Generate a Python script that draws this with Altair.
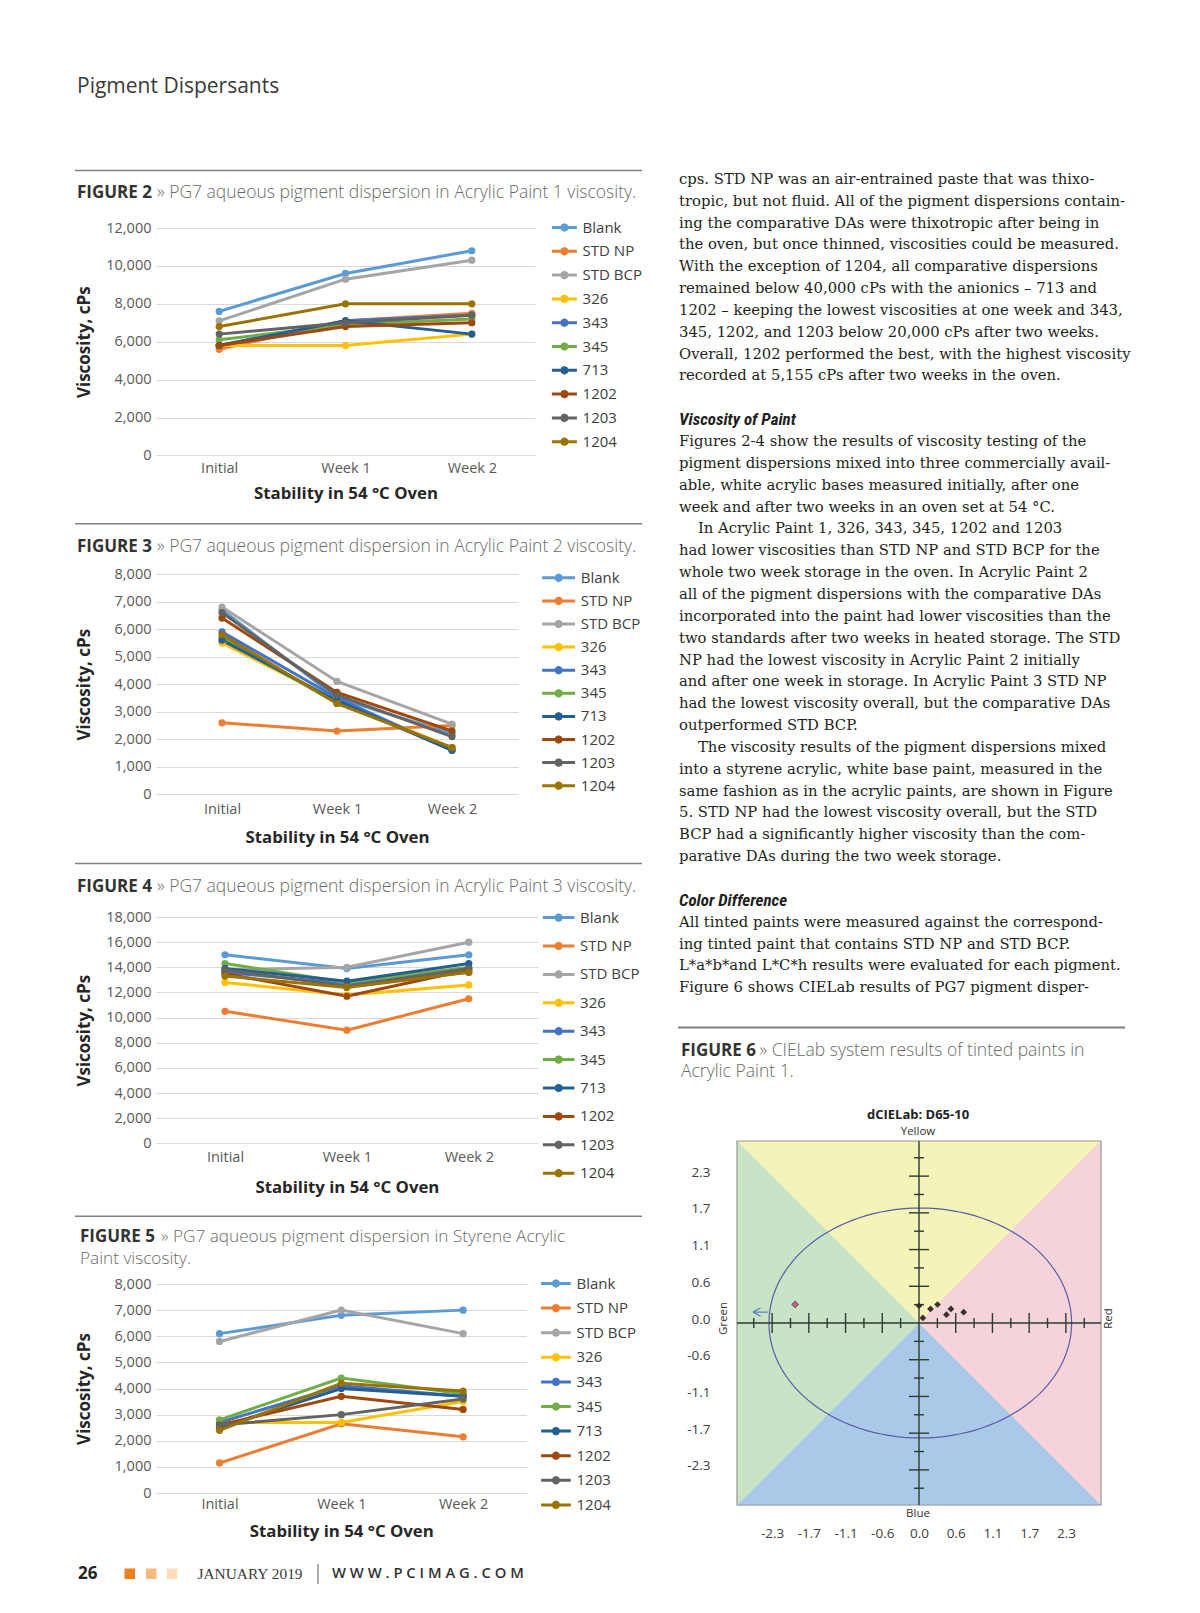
import altair as alt
import pandas as pd

# ---------------- data ----------------
series = ["Blank", "STD NP", "STD BCP", "326", "343", "345", "713", "1202", "1203", "1204"]
times = ["Initial", "Week 1", "Week 2"]
series_colors = ["#5B9BD5", "#ED7D31", "#A5A5A5", "#FFC000", "#4472C4",
                 "#70AD47", "#255E91", "#9E480E", "#636363", "#997300"]

# rows follow `series`, columns follow `times` (viscosity, cPs)
fig2_values = [
    [7600, 9600, 10800], [5600, 7100, 7500], [7100, 9300, 10300], [5800, 5800, 6400],
    [5800, 7100, 7400], [6100, 6900, 7200], [5800, 7100, 6400], [5800, 6800, 7000],
    [6400, 7000, 7400], [6800, 8000, 8000],
]
fig3_values = [
    [6700, 3500, 2200], [2600, 2300, 2500], [6800, 4100, 2550], [5500, 3400, 1700],
    [5900, 3500, 1600], [5700, 3300, 1700], [5600, 3400, 1600], [6400, 3700, 2300],
    [6600, 3600, 2100], [5800, 3300, 1700],
]
fig4_values = [
    [15000, 13900, 15000], [10500, 9000, 11500], [13800, 14000, 16000], [12800, 11800, 12600],
    [13600, 12700, 13600], [14300, 12800, 14000], [13900, 12900, 14300], [13500, 11700, 13800],
    [13800, 12500, 13900], [13300, 12400, 13600],
]
fig5_values = [
    [6100, 6800, 7000], [1150, 2650, 2150], [5800, 7000, 6100], [2700, 2700, 3500],
    [2700, 4100, 3700], [2800, 4400, 3800], [2500, 4000, 3700], [2600, 3700, 3200],
    [2600, 3000, 3600], [2400, 4200, 3900],
]

# CIELab (Figure 6): da*, db* of the tinted paints
cie_da = [-1.94, 0.00, 0.06, 0.18, 0.29, 0.43, 0.50, 0.70]
cie_db = [0.29, 0.27, 0.08, 0.22, 0.29, 0.13, 0.22, 0.17]
cie_kind = ["pink", "dark", "dark", "dark", "dark", "dark", "dark", "dark"]
cie_ticks = [-2.3, -1.725, -1.15, -0.575, 0.0, 0.575, 1.15, 1.725, 2.3]
cie_limit = 2.85
cie_ellipse = {"cx": 0.02, "cy": 0.0, "a": 2.37, "b": 1.80}

header_text = "Pigment Dispersants"
captions = {
    2: "» PG7 aqueous pigment dispersion in Acrylic Paint 1 viscosity.",
    3: "» PG7 aqueous pigment dispersion in Acrylic Paint 2 viscosity.",
    4: "» PG7 aqueous pigment dispersion in Acrylic Paint 3 viscosity.",
    5: "» PG7 aqueous pigment dispersion in Styrene Acrylic",
}
caption5_line2 = "Paint viscosity."
caption6 = "» CIELab system results of tinted paints in"
caption6_line2 = "Acrylic Paint 1."

block1 = [
    "cps. STD NP was an air-entrained paste that was thixo-",
    "tropic, but not fluid. All of the pigment dispersions contain-",
    "ing the comparative DAs were thixotropic after being in",
    "the oven, but once thinned, viscosities could be measured.",
    "With the exception of 1204, all comparative dispersions",
    "remained below 40,000 cPs with the anionics – 713 and",
    "1202 – keeping the lowest viscosities at one week and 343,",
    "345, 1202, and 1203 below 20,000 cPs after two weeks.",
    "Overall, 1202 performed the best, with the highest viscosity",
    "recorded at 5,155 cPs after two weeks in the oven.",
]
heading1 = "Viscosity of Paint"
block2 = [
    "Figures 2-4 show the results of viscosity testing of the",
    "pigment dispersions mixed into three commercially avail-",
    "able, white acrylic bases measured initially, after one",
    "week and after two weeks in an oven set at 54 °C.",
    "In Acrylic Paint 1, 326, 343, 345, 1202 and 1203",
    "had lower viscosities than STD NP and STD BCP for the",
    "whole two week storage in the oven. In Acrylic Paint 2",
    "all of the pigment dispersions with the comparative DAs",
    "incorporated into the paint had lower viscosities than the",
    "two standards after two weeks in heated storage. The STD",
    "NP had the lowest viscosity in Acrylic Paint 2 initially",
    "and after one week in storage. In Acrylic Paint 3 STD NP",
    "had the lowest viscosity overall, but the comparative DAs",
    "outperformed STD BCP.",
    "The viscosity results of the pigment dispersions mixed",
    "into a styrene acrylic, white base paint, measured in the",
    "same fashion as in the acrylic paints, are shown in Figure",
    "5. STD NP had the lowest viscosity overall, but the STD",
    "BCP had a significantly higher viscosity than the com-",
    "parative DAs during the two week storage.",
]
block2_indented = [4, 14]
heading2 = "Color Difference"
block3 = [
    "All tinted paints were measured against the correspond-",
    "ing tinted paint that contains STD NP and STD BCP.",
    "L*a*b*and L*C*h results were evaluated for each pigment.",
    "Figure 6 shows CIELab results of PG7 pigment disper-",
]

# ---------------- helpers ----------------
ONE = pd.DataFrame({"_": [0]})
SANS = "Open Sans"


def legend_symbol(half):
    """Legend glyph: a line with a dot, in the unit box that Vega scales by sqrt(size)/2."""
    return (f"M{-half},0L{half},0M0.27,0L0.19,0.19L0,0.27L-0.19,0.19L-0.27,0"
            "L-0.19,-0.19L0,-0.27L0.19,-0.19Z")


def long_df(values):
    return pd.DataFrame([{"series": s, "time": t, "value": v}
                         for s, vals in zip(series, values) for t, v in zip(times, vals)])


class Frame:
    """Page furniture placed relative to a plot origin (page pixels)."""

    def __init__(self, x0, y0):
        self.x0, self.y0 = x0, y0

    def text(self, s, x, y, size=14, font=SANS, color="#333333", weight="normal",
             style="normal", align="left", baseline="middle", angle=None):
        kw = dict(align=align, baseline=baseline, font=font, fontSize=size, color=color,
                  fontWeight=weight, fontStyle=style)
        if angle is not None:
            kw["angle"] = angle
        return alt.Chart(ONE).mark_text(**kw).encode(
            x=alt.value(x - self.x0), y=alt.value(y - self.y0), text=alt.value(s))

    def hline(self, x1, x2, y, color="#808080", width=1.5, opacity=1.0):
        return alt.Chart(ONE).mark_rule(color=color, strokeWidth=width, opacity=opacity).encode(
            x=alt.value(x1 - self.x0), x2=alt.value(x2 - self.x0), y=alt.value(y - self.y0))

    def vline(self, x, y1, y2, color="#555555", width=1.0):
        return alt.Chart(ONE).mark_rule(color=color, strokeWidth=width).encode(
            x=alt.value(x - self.x0), y=alt.value(y1 - self.y0), y2=alt.value(y2 - self.y0))

    def box(self, x1, x2, y1, y2, color):
        return alt.Chart(ONE).mark_rect(color=color).encode(
            x=alt.value(x1 - self.x0), x2=alt.value(x2 - self.x0),
            y=alt.value(y1 - self.y0), y2=alt.value(y2 - self.y0))

    def bounds(self, x1, x2, top, bottom):
        return [self.hline(x1, x2, top, opacity=0, width=1),
                self.hline(x1, x2, bottom, opacity=0, width=1)]


LEFT_X0 = 156  # all left-column plots share one origin x


def viscosity_chart(values, ymax, ystep, ytitle, fr, first_center, step, H,
                    sym_x1, sym_x2, leg_first, leg_step, xlab_center, xtitle_y):
    pad = (first_center - fr.x0) / step
    W = step * (2 + 2 * pad)
    sym_len = sym_x2 - sym_x1
    overhang = (sym_len - 20) / 2
    legend = alt.Legend(orient="none", legendX=sym_x1 + overhang - fr.x0,
                        legendY=leg_first - 13 - fr.y0,
                        title=None, symbolType=legend_symbol(round(sym_len / 20, 3)),
                        symbolSize=400, symbolStrokeWidth=3,
                        labelFontSize=15, labelFont=SANS, labelColor="#404040",
                        labelOffset=round(overhang + 4.2, 2), rowPadding=max(leg_step - 21, 0),
                        padding=0)
    ch = alt.Chart(long_df(values)).mark_line(
        strokeWidth=3, point=alt.OverlayMarkDef(filled=True, size=52)
    ).encode(
        x=alt.X("time:N", sort=times, title="Stability in 54 °C Oven",
                scale=alt.Scale(type="point", padding=pad),
                axis=alt.Axis(labelAngle=0, labelFontSize=14.5, labelColor="#595959", labelFont=SANS,
                              labelPadding=xlab_center - 7.8, ticks=False, tickSize=0, domain=False,
                              titleFontSize=16.8, titleFontWeight="bold", titleColor="#262626",
                              titleFont=SANS, titleY=xtitle_y - (fr.y0 + H), titleBaseline="middle")),
        y=alt.Y("value:Q", scale=alt.Scale(domain=[0, ymax], nice=False), title=ytitle,
                axis=alt.Axis(values=list(range(0, ymax + 1, ystep)), format=",.0f", grid=True,
                              gridColor="#d9d9d9", gridWidth=1, domain=False, ticks=False, tickSize=0,
                              labelPadding=5, labelFontSize=14.5, labelColor="#595959", labelFont=SANS,
                              titleFontSize=17, titleFontWeight="bold", titleColor="#262626",
                              titleFont=SANS, titleX=84.4 - fr.x0, titleY=H / 2, titleAngle=270,
                              titleBaseline="middle", titleAlign="center")),
        color=alt.Color("series:N", sort=series,
                        scale=alt.Scale(domain=series, range=series_colors), legend=legend),
    )
    return ch, W


def caption(fr, num, light, y, x_bold=77, x_light=157, size=17.5):
    return [fr.text(f"FIGURE {num}", x_bold, y, size=17, weight="bold", color="#333333"),
            fr.text(light, x_light, y, size=size, weight=300, color="#6a6a6a")]


LEFT_X1, LEFT_X2 = 60, 660

# ---------------- Figure 2 ----------------
f2 = Frame(LEFT_X0, 227.4)
H2 = 227.4
ch2, W2 = viscosity_chart(fig2_values, 12000, 2000, "Viscosity, cPs", f2, 219.2, 126.3, H2,
                          550.4, 575.4, 228.4, 23.8, 13.4, 493)
c2 = alt.layer(
    ch2,
    f2.text(header_text, 77, 86.4, size=21, color="#3a3a3a"),
    f2.hline(75, 642, 169.8),
    *caption(f2, 2, captions[2], 192.4),
    *f2.bounds(LEFT_X1, LEFT_X2, 60, 510),
).properties(width=W2, height=H2)

# ---------------- Figure 3 ----------------
f3 = Frame(LEFT_X0, 573)
H3 = 220.4
ch3, W3 = viscosity_chart(fig3_values, 8000, 1000, "Viscosity, cPs", f3, 222, 115, H3,
                          540.7, 573.6, 578.3, 23.1, 15.4, 836.6)
c3 = alt.layer(
    ch3,
    f3.hline(75, 642, 522.7),
    *caption(f3, 3, captions[3], 546.4),
    *f3.bounds(LEFT_X1, LEFT_X2, 510, 850),
).properties(width=W3, height=H3)

# ---------------- Figure 4 ----------------
f4 = Frame(LEFT_X0, 915.8)
H4 = 226.4
ch4, W4 = viscosity_chart(fig4_values, 18000, 2000, "Vsicosity, cPs", f4, 225, 121.9, H4,
                          541.4, 572.9, 917.9, 28.4, 14.4, 1186.4)
c4 = alt.layer(
    ch4,
    f4.hline(75, 642, 862.3),
    *caption(f4, 4, captions[4], 886),
    *f4.bounds(LEFT_X1, LEFT_X2, 850, 1202),
).properties(width=W4, height=H4)

# ---------------- Figure 5 + footer ----------------
f5 = Frame(LEFT_X0, 1282)
H5 = 209
ch5, W5 = viscosity_chart(fig5_values, 8000, 1000, "Viscosity, cPs", f5, 219.5, 121.8, H5,
                          539.6, 569.3, 1283, 24.6, 12.4, 1529)
c5 = alt.layer(
    ch5,
    f5.hline(75, 642, 1214.2),
    *caption(f5, 5, captions[5], 1235.3, x_bold=80, x_light=161, size=17.2),
    f5.text(caption5_line2, 80, 1257.2, size=17.2, weight=300, color="#6a6a6a"),
    f5.text("26", 78, 1572, size=17, weight="bold", color="#222222"),
    f5.box(124.5, 135, 1566.5, 1577, "#F07F1F"),
    f5.box(146, 156.5, 1566.5, 1577, "#F9BB7C"),
    f5.box(166.7, 177.2, 1566.5, 1577, "#FCDDBC"),
    f5.text("JANUARY 2019", 197.5, 1572, size=15.4, font="Liberation Serif", color="#3a3a3a"),
    f5.vline(318, 1562, 1582),
    f5.text("W  W  W  .  P  C  I  M  A  G  .  C  O  M", 332, 1572, size=14.8, weight=600,
            color="#333333"),
    *f5.bounds(LEFT_X1, LEFT_X2, 1202, 1600),
).properties(width=W5, height=H5)

left_col = alt.concat(c2, c3, c4, c5, columns=1, spacing=0, align="none") \
    .resolve_scale(color="independent").resolve_legend(color="independent")

# ---------------- right column: article text ----------------
LINE = 21.85
TEXT_X, TEXT_Y = 679, 179.2       # first text line (page px)
R_X0, R_Y0 = 737, 227.4           # right-column origin (aligned with the CIELab plot / Fig. 2 plot)

rows = []
for i, s in enumerate(block1):
    rows.append(dict(k=i, indent=0, text=s, kind="body"))
rows.append(dict(k=11, indent=0, text=heading1, kind="heading"))
for i, s in enumerate(block2):
    rows.append(dict(k=12 + i, indent=19 if i in block2_indented else 0, text=s, kind="body"))
rows.append(dict(k=33, indent=0, text=heading2, kind="heading"))
for i, s in enumerate(block3):
    rows.append(dict(k=34 + i, indent=0, text=s, kind="body"))
rows.append(dict(k=39.88, indent=2, text="FIGURE 6", kind="capbold"))
rows.append(dict(k=39.88, indent=80.5, text=caption6, kind="caplight"))
rows.append(dict(k=40.85, indent=2, text=caption6_line2, kind="caplight"))
text_df = pd.DataFrame(rows)

fr1 = Frame(R_X0, R_Y0)
k0 = (R_Y0 - TEXT_Y) / LINE
x_off = R_X0 - TEXT_X
WT = 364
HT = (41 - k0) * LINE
XT = alt.X("indent:Q", scale=alt.Scale(domain=[x_off, x_off + WT], nice=False, zero=False), axis=None)
YT = alt.Y("k:Q", scale=alt.Scale(domain=[k0, 41], reverse=True, nice=False, zero=False), axis=None)


def text_layer(kind, **kw):
    return alt.Chart(text_df).transform_filter(f"datum.kind == '{kind}'").mark_text(
        align="left", baseline="middle", **kw).encode(x=XT, y=YT, text="text:N")


r1 = alt.layer(
    text_layer("body", font="DejaVu Serif", fontSize=14.8, color="#231f20"),
    text_layer("heading", font="Liberation Sans Narrow, Roboto Condensed, DejaVu Sans Condensed, Roboto",
               fontSize=17, fontStyle="italic", fontWeight="bold", color="#231f20"),
    text_layer("capbold", font=SANS, fontSize=17, fontWeight="bold", color="#333333"),
    text_layer("caplight", font=SANS, fontSize=17.5, fontWeight=300, color="#6a6a6a"),
    fr1.hline(678, 1125, TEXT_Y + 38.8 * LINE, width=2),
    *fr1.bounds(660, 1160, 60, 1095),
).properties(width=WT, height=HT)

# ---------------- right column: CIELab diagram ----------------
fr2 = Frame(737, 1139.5)
WC = HC = 364
L = cie_limit
xs = alt.Scale(domain=[-L, L], nice=False, zero=False)
ys = alt.Scale(domain=[-L, L], nice=False, zero=False)
lab_expr = "datum.value < 0 ? '-' + format(-datum.value, '.1f') : format(datum.value, '.1f')"
xaxis = alt.Axis(values=cie_ticks, labelExpr=lab_expr, title=None, grid=False, domain=False,
                 ticks=False, tickSize=0, labelPadding=21, labelFontSize=13.5, labelColor="#404040",
                 labelFont=SANS)
yaxis = alt.Axis(values=cie_ticks, labelExpr=lab_expr, title=None, grid=False, domain=False,
                 ticks=False, tickSize=0, labelPadding=27, labelOffset=-4, labelFontSize=13.5,
                 labelColor="#404040", labelFont=SANS)


def AX(f):
    return alt.X(f, type="quantitative", scale=xs, axis=xaxis)


def AY(f):
    return alt.Y(f, type="quantitative", scale=ys, axis=yaxis)


def tri(xv, yv, other, color, horizontal=False):
    if horizontal:
        df = pd.DataFrame({"x": xv, "y": yv, "x2": [other] * 3})
        return alt.Chart(df).mark_area(orient="horizontal", color=color, stroke=color,
                                       strokeWidth=0.6).encode(y=AY("y"), x=AX("x"), x2="x2:Q")
    df = pd.DataFrame({"x": xv, "y": yv, "y2": [other] * 3})
    return alt.Chart(df).mark_area(color=color, stroke=color, strokeWidth=0.6).encode(
        x=AX("x"), y=AY("y"), y2="y2:Q")


long_h, short_h = 10 / (WC / (2 * L)), 5 / (WC / (2 * L))
majors = [t for t in cie_ticks if t != 0]
minors = [(a + b) / 2 for a, b in zip(cie_ticks[:-1], cie_ticks[1:])]
minors = [2 * cie_ticks[0] - minors[0]] + minors + [2 * cie_ticks[-1] - minors[-1]]
cross = [dict(x=-L, x2=L, y=0, y2=0), dict(x=0, x2=0, y=-L, y2=L)]
for t in majors:
    cross.append(dict(x=t, x2=t, y=-long_h, y2=long_h))
    cross.append(dict(x=-long_h, x2=long_h, y=t, y2=t))
for t in minors:
    cross.append(dict(x=t, x2=t, y=-short_h, y2=short_h))
    cross.append(dict(x=-short_h, x2=short_h, y=t, y2=t))
cross_df = pd.DataFrame(cross)

arrow_df = pd.DataFrame([
    dict(x=-2.60, x2=-2.37, y=0.17, y2=0.17),
    dict(x=-2.60, x2=-2.48, y=0.17, y2=0.235),
    dict(x=-2.60, x2=-2.48, y=0.17, y2=0.105),
])
pts = pd.DataFrame({"a": cie_da, "b": cie_db, "kind": cie_kind})
e = cie_ellipse

r2 = alt.layer(
    tri([-L, 0, L], [L, 0, L], L, "#f4f3b8"),
    tri([-L, 0, L], [-L, 0, -L], -L, "#aac9e9"),
    tri([-L, 0, -L], [-L, 0, L], -L, "#c8e3c6", horizontal=True),
    tri([L, 0, L], [-L, 0, L], L, "#f4d4da", horizontal=True),
    alt.Chart(pd.DataFrame({"x": [-L], "x2": [L], "y": [-L], "y2": [L]})).mark_rect(
        fillOpacity=0, stroke="#9a9a9a", strokeWidth=1.2).encode(
        x=AX("x"), x2="x2:Q", y=AY("y"), y2="y2:Q"),
    alt.Chart(alt.sequence(0, 361, 3, as_="deg")).transform_calculate(
        ex=f"{e['cx']} + {e['a']} * cos(datum.deg * PI / 180)",
        ey=f"{e['cy']} + {e['b']} * sin(datum.deg * PI / 180)",
    ).mark_line(color="#5a5ca8", strokeWidth=1.2).encode(x=AX("ex"), y=AY("ey"), order="deg:Q"),
    alt.Chart(cross_df).mark_rule(color="#2e3b30", strokeWidth=1.4).encode(
        x=AX("x"), x2="x2:Q", y=AY("y"), y2="y2:Q"),
    alt.Chart(arrow_df).mark_rule(color="#5b7fc0", strokeWidth=1.2).encode(
        x=AX("x"), x2="x2:Q", y=AY("y"), y2="y2:Q"),
    alt.Chart(pts).transform_filter("datum.kind == 'dark'").mark_point(
        shape="diamond", filled=True, size=45, color="#3b2d30", opacity=1).encode(x=AX("a"), y=AY("b")),
    alt.Chart(pts).transform_filter("datum.kind == 'pink'").mark_point(
        shape="diamond", filled=True, size=45, fill="#c8648c", stroke="#4a2a38", strokeWidth=0.8,
        opacity=1).encode(x=AX("a"), y=AY("b")),
    fr2.text("dCIELab: D65-10", 918, 1113.4, size=13, weight="bold", align="center", color="#222222"),
    fr2.text("Yellow", 918, 1130, size=11.5, align="center", color="#333333"),
    fr2.text("Blue", 918, 1512.6, size=11.5, align="center", color="#333333"),
    fr2.text("Green", 724.4, 1317, size=11.5, align="center", color="#333333", angle=270),
    fr2.text("Red", 1109, 1317, size=11.5, align="center", color="#333333", angle=270),
    *fr2.bounds(660, 1160, 1095, 1600),
).properties(width=WC, height=HC)

right_col = alt.concat(r1, r2, columns=1, spacing=0, align="none")

chart = alt.concat(left_col, right_col, columns=2, spacing=0, align="none") \
    .resolve_scale(color="independent").resolve_legend(color="independent") \
    .properties(padding={"left": 52, "top": 52, "right": 8, "bottom": 5}) \
    .configure(font=SANS, view=alt.ViewConfig(strokeWidth=0))

chart.save("out.html", embed_options={"renderer": "svg", "actions": False})
